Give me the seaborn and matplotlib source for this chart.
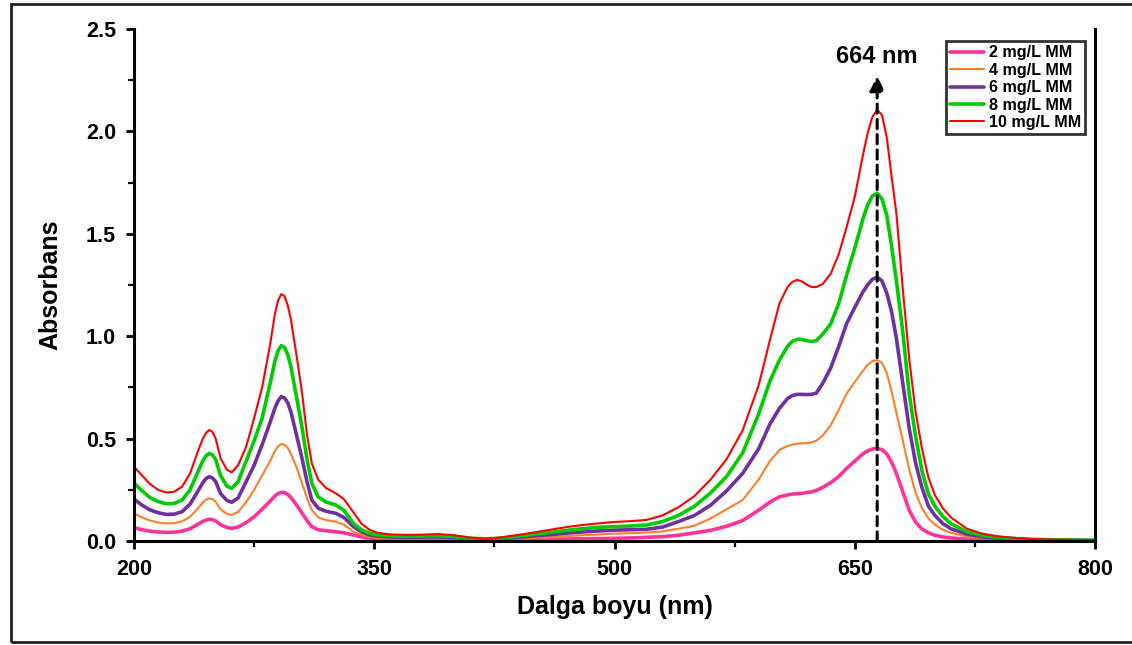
import numpy as np
import pandas as pd
import matplotlib
matplotlib.use("Agg")
import matplotlib.pyplot as plt
import seaborn as sns
from matplotlib.patches import Rectangle
from matplotlib.ticker import FixedLocator

# ---------------- data ----------------
wavelength = [200, 205, 210, 215, 220, 225, 230, 235, 240, 243, 245, 247, 249, 251, 254, 258, 261,
              265, 270, 275, 280, 285, 288, 290, 292, 294, 296, 298, 302, 305, 308, 311, 315, 320,
              326, 331, 337, 342, 347, 352, 360, 370, 380, 390, 400, 410, 420, 430, 440,
              450, 460, 470, 480, 490, 500, 510, 520, 530, 540, 550, 560, 570, 580, 590,
              597, 603, 608, 611, 614, 617, 620, 623, 626, 630, 635, 640, 645, 650, 655, 658, 661, 664, 667,
              670, 673, 676, 680, 684, 688, 692, 696, 700, 705, 710, 720, 730, 740, 750, 760,
              780, 800]

mm2 = [0.065, 0.055, 0.048, 0.044, 0.042, 0.043, 0.048, 0.060, 0.082, 0.096, 0.102, 0.106, 0.104, 0.098, 0.080, 0.066, 0.062,
       0.068, 0.090, 0.118, 0.155, 0.195, 0.220, 0.232, 0.238, 0.236, 0.228, 0.212, 0.170, 0.135, 0.100, 0.070, 0.055, 0.050,
       0.045, 0.040, 0.029, 0.020, 0.013, 0.010, 0.008, 0.007, 0.007, 0.008, 0.007, 0.005, 0.004, 0.005, 0.006,
       0.008, 0.009, 0.010, 0.011, 0.012, 0.013, 0.015, 0.018, 0.021, 0.028, 0.040, 0.052, 0.072, 0.100, 0.150,
       0.190, 0.216, 0.225, 0.229, 0.231, 0.233, 0.236, 0.240, 0.247, 0.262, 0.285, 0.315, 0.355, 0.390, 0.425, 0.440, 0.449, 0.452, 0.446,
       0.425, 0.385, 0.330, 0.240, 0.150, 0.092, 0.058, 0.040, 0.028, 0.020, 0.015, 0.009, 0.006, 0.004, 0.003, 0.002,
       0.001, 0.001]

mm4 = [0.135, 0.115, 0.100, 0.090, 0.086, 0.087, 0.096, 0.118, 0.160, 0.188, 0.202, 0.208, 0.205, 0.192, 0.155, 0.132, 0.127,
       0.142, 0.190, 0.250, 0.320, 0.390, 0.440, 0.462, 0.474, 0.470, 0.455, 0.425, 0.350, 0.280, 0.210, 0.151, 0.115, 0.102,
       0.094, 0.080, 0.045, 0.030, 0.020, 0.016, 0.013, 0.012, 0.012, 0.013, 0.012, 0.008, 0.006, 0.008, 0.011,
       0.015, 0.019, 0.024, 0.028, 0.032, 0.036, 0.038, 0.041, 0.047, 0.060, 0.075, 0.110, 0.155, 0.200, 0.300,
       0.390, 0.444, 0.464, 0.471, 0.475, 0.477, 0.478, 0.481, 0.490, 0.515, 0.565, 0.640, 0.721, 0.775, 0.830, 0.860, 0.878, 0.884, 0.870,
       0.820, 0.730, 0.625, 0.490, 0.350, 0.235, 0.160, 0.110, 0.080, 0.055, 0.040, 0.022, 0.014, 0.010, 0.007, 0.005,
       0.003, 0.002]

mm6 = [0.205, 0.175, 0.152, 0.138, 0.130, 0.131, 0.143, 0.180, 0.245, 0.285, 0.305, 0.314, 0.308, 0.290, 0.232, 0.198, 0.189,
       0.210, 0.290, 0.370, 0.470, 0.580, 0.650, 0.685, 0.705, 0.698, 0.675, 0.630, 0.500, 0.400, 0.290, 0.200, 0.160, 0.145,
       0.135, 0.115, 0.070, 0.045, 0.030, 0.024, 0.020, 0.018, 0.019, 0.020, 0.017, 0.011, 0.008, 0.012, 0.018,
       0.025, 0.031, 0.038, 0.044, 0.049, 0.053, 0.055, 0.057, 0.068, 0.095, 0.125, 0.175, 0.245, 0.330, 0.450,
       0.570, 0.648, 0.695, 0.710, 0.716, 0.716, 0.715, 0.716, 0.722, 0.770, 0.845, 0.950, 1.063, 1.140, 1.215, 1.250, 1.278, 1.288, 1.270,
       1.210, 1.120, 0.990, 0.770, 0.550, 0.380, 0.260, 0.170, 0.125, 0.085, 0.060, 0.033, 0.020, 0.013, 0.009, 0.006,
       0.004, 0.003]

mm8 = [0.282, 0.245, 0.212, 0.193, 0.182, 0.183, 0.200, 0.250, 0.340, 0.392, 0.416, 0.428, 0.420, 0.398, 0.320, 0.268, 0.257,
       0.290, 0.390, 0.490, 0.600, 0.770, 0.880, 0.930, 0.954, 0.945, 0.910, 0.850, 0.680, 0.550, 0.400, 0.282, 0.215, 0.190,
       0.176, 0.150, 0.086, 0.055, 0.038, 0.030, 0.025, 0.023, 0.024, 0.026, 0.022, 0.014, 0.010, 0.015, 0.024,
       0.033, 0.042, 0.052, 0.060, 0.067, 0.070, 0.073, 0.078, 0.095, 0.125, 0.170, 0.235, 0.315, 0.430, 0.620,
       0.780, 0.884, 0.950, 0.975, 0.985, 0.984, 0.978, 0.974, 0.978, 1.010, 1.060, 1.160, 1.300, 1.430, 1.570, 1.640, 1.685, 1.698, 1.670,
       1.590, 1.440, 1.270, 1.020, 0.720, 0.510, 0.340, 0.230, 0.170, 0.120, 0.085, 0.045, 0.027, 0.018, 0.012, 0.008,
       0.005, 0.003]

mm10 = [0.363, 0.320, 0.278, 0.250, 0.237, 0.240, 0.265, 0.330, 0.440, 0.500, 0.528, 0.542, 0.532, 0.500, 0.405, 0.348, 0.335,
        0.370, 0.460, 0.600, 0.750, 0.960, 1.110, 1.175, 1.206, 1.195, 1.150, 1.080, 0.880, 0.720, 0.520, 0.379, 0.300, 0.258,
        0.233, 0.205, 0.140, 0.085, 0.055, 0.040, 0.032, 0.030, 0.031, 0.034, 0.028, 0.016, 0.010, 0.018, 0.030,
        0.042, 0.055, 0.068, 0.078, 0.086, 0.093, 0.097, 0.103, 0.125, 0.165, 0.220, 0.300, 0.400, 0.540, 0.760,
        0.980, 1.160, 1.240, 1.265, 1.275, 1.268, 1.252, 1.240, 1.240, 1.255, 1.305, 1.400, 1.535, 1.680, 1.880, 1.990, 2.070, 2.105, 2.080,
        1.970, 1.780, 1.600, 1.230, 0.890, 0.630, 0.450, 0.310, 0.225, 0.160, 0.115, 0.060, 0.035, 0.022, 0.015, 0.010,
        0.006, 0.004]

series_labels = ["2 mg/L MM", "4 mg/L MM", "6 mg/L MM", "8 mg/L MM", "10 mg/L MM"]
series_values = [mm2, mm4, mm6, mm8, mm10]
colors = ["#FF3399", "#FF7F27", "#7030A0", "#00CC00", "#FF0000"]
widths = [2.6, 1.5, 2.6, 2.6, 1.5]

x_ticks = [200, 350, 500, 650, 800]
x_minor = [275, 425, 575, 725]
y_ticks = [0.0, 0.5, 1.0, 1.5, 2.0, 2.5]
y_minor = [0.25, 0.75, 1.25, 1.75, 2.25]
peak_nm = 664
peak_label = "664 nm"
x_label = "Dalga boyu (nm)"
y_label = "Absorbans"

# ---------------- long table ----------------
frames = []
for lab, vals in zip(series_labels, series_values):
    frames.append(pd.DataFrame({"wl": wavelength, "A": vals, "conc": lab}))
df = pd.concat(frames, ignore_index=True)

sns.set_style("ticks")
plt.rcParams["font.family"] = ["Liberation Sans", "DejaVu Sans"]
plt.rcParams["font.weight"] = "bold"
plt.rcParams["lines.solid_joinstyle"] = "round"
plt.rcParams["text.color"] = "black"
plt.rcParams["axes.labelcolor"] = "black"

fig = plt.figure(figsize=(11.32, 6.45), dpi=100)
ax = fig.add_axes([134 / 1132, 1 - 541 / 645, (1095 - 134) / 1132, (541 - 29) / 645])

for lab, col, lw in zip(series_labels, colors, widths):
    sub = df[df["conc"] == lab]
    sns.lineplot(data=sub, x="wl", y="A", color=col, linewidth=lw, label=lab,
                 ax=ax, estimator=None, sort=False)

ax.set_xlim(200, 800)
ax.set_ylim(0, 2.5)
ax.set_xticks(x_ticks)
ax.set_yticks(y_ticks)
ax.set_xticklabels([str(t) for t in x_ticks])
ax.set_yticklabels([f"{t:.1f}" for t in y_ticks])
ax.xaxis.set_minor_locator(FixedLocator(x_minor))
ax.yaxis.set_minor_locator(FixedLocator(y_minor))

for s in ["left", "bottom", "right"]:
    ax.spines[s].set_linewidth(2.2)
    ax.spines[s].set_color("black")
ax.spines["top"].set_visible(False)

ax.tick_params(axis="both", which="major", direction="out", length=6, width=2,
               labelsize=15.5, pad=7, colors="black")
ax.tick_params(axis="both", which="minor", direction="out", length=4, width=1.6, colors="black")
ax.tick_params(axis="y", which="both", right=False)
for lbl in ax.get_xticklabels() + ax.get_yticklabels():
    lbl.set_fontweight("bold")

ax.set_xlabel(x_label, fontsize=18, fontweight="bold", labelpad=11, color="black")
ax.set_ylabel(y_label, fontsize=18, fontweight="bold", labelpad=17, color="black")

# peak marker
ax.annotate("", xy=(peak_nm, 2.27), xytext=(peak_nm, 0.0),
            arrowprops=dict(arrowstyle="-|>", color="black", lw=2.2,
                            linestyle=(0, (3, 2)), mutation_scale=22,
                            shrinkA=0, shrinkB=0))
ax.text(peak_nm, 2.365, peak_label, ha="center", va="center",
        fontsize=17, fontweight="bold", color="black")

leg = ax.legend(loc="upper right", bbox_to_anchor=(0.99, 0.976), borderaxespad=0,
                frameon=True, fancybox=False, fontsize=11.6, handlelength=2.1,
                handletextpad=0.3, labelspacing=0.15, borderpad=0.25)
leg.get_frame().set_edgecolor("black")
leg.get_frame().set_linewidth(2.0)
for t in leg.get_texts():
    t.set_fontweight("bold")
    t.set_color("black")

# outer frame of the figure
fig.patches.append(Rectangle((11 / 1132, 3 / 645), 1.2, 638 / 645, transform=fig.transFigure,
                             fill=False, edgecolor="#222222", linewidth=2.0, clip_on=False))

fig.savefig("out.png", dpi=100)
